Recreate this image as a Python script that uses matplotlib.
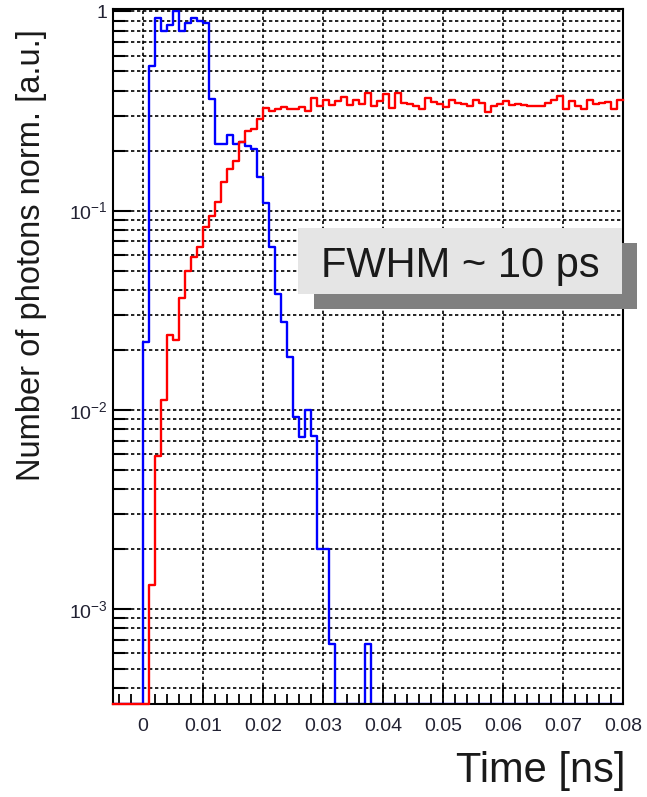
import numpy as np
import matplotlib
matplotlib.use("Agg")
from matplotlib import pyplot as plt
from matplotlib.patches import Rectangle
from matplotlib.ticker import FixedLocator, FixedFormatter, MultipleLocator, NullFormatter

plt.rcParams['font.family'] = ['Liberation Sans', 'DejaVu Sans']
plt.rcParams['mathtext.fontset'] = 'custom'
plt.rcParams['mathtext.rm'] = 'Liberation Sans'

# histogram binning: 85 bins of 1 ps from -0.005 to 0.080 ns
t_min = -0.005
t_max = 0.080
bin_width = 0.001

# blue: fast signal (normalised to max = 1)
blue = [0, 0, 0, 0, 0,
        0.0218, 0.53, 0.93, 0.80, 0.855, 1.0, 0.80, 0.87, 0.93, 0.90,
        0.87, 0.364, 0.217, 0.215, 0.241, 0.217, 0.22, 0.21, 0.203, 0.148,
        0.109, 0.066, 0.038, 0.0276, 0.0185, 0.0092, 0.0073, 0.0100, 0.0074, 0.0020,
        0.0020, 0.000665, 0, 0, 0, 0, 0, 0.000665, 0, 0,
        0, 0, 0, 0, 0, 0, 0, 0, 0, 0,
        0, 0, 0, 0, 0, 0, 0, 0, 0, 0,
        0, 0, 0, 0, 0, 0, 0, 0, 0, 0,
        0, 0, 0, 0, 0, 0, 0, 0, 0, 0]

# red: integrated signal
red = [0, 0, 0, 0, 0,
       0, 0.00132, 0.0059, 0.0112, 0.0238, 0.0225, 0.0364, 0.0499, 0.0585, 0.066,
       0.0824, 0.0944, 0.111, 0.139, 0.161, 0.177, 0.220, 0.252, 0.258, 0.287,
       0.328, 0.316, 0.324, 0.331, 0.325, 0.325, 0.331, 0.316, 0.368, 0.337,
       0.358, 0.338, 0.354, 0.373, 0.338, 0.361, 0.341, 0.388, 0.337, 0.354,
       0.383, 0.328, 0.388, 0.347, 0.344, 0.334, 0.322, 0.368, 0.350, 0.344,
       0.331, 0.358, 0.345, 0.341, 0.334, 0.361, 0.347, 0.312, 0.334, 0.344,
       0.354, 0.338, 0.344, 0.338, 0.334, 0.334, 0.334, 0.347, 0.358, 0.378,
       0.322, 0.354, 0.334, 0.325, 0.361, 0.341, 0.347, 0.350, 0.322, 0.361]

x_ticks = [0, 0.01, 0.02, 0.03, 0.04, 0.05, 0.06, 0.07, 0.08]
x_labels = ['0', '0.01', '0.02', '0.03', '0.04', '0.05', '0.06', '0.07', '0.08']
y_ticks = [1e-3, 1e-2, 1e-1, 1]
y_labels = [r'$\mathregular{10^{-3}}$', r'$\mathregular{10^{-2}}$',
            r'$\mathregular{10^{-1}}$', '1']

y_lo = 3.34e-4
y_hi = 1.028

edges = np.arange(len(blue) + 1) * bin_width + t_min
# ROOT draws empty bins along the bottom of the frame
blue_draw = np.clip(np.array(blue), y_lo, None)
red_draw = np.clip(np.array(red), y_lo, None)

W, H = 647, 797
fig = plt.figure(figsize=(W / 100, H / 100), dpi=100)
ax = fig.add_axes([113 / W, 1 - 704 / H, (623.3 - 113) / W, (704 - 9) / H])
ax.set_yscale('log')

ax.plot(edges, np.append(blue_draw, blue_draw[-1]), drawstyle='steps-post',
        color='#0000ff', lw=1.7, zorder=2)
ax.plot(edges, np.append(red_draw, red_draw[-1]), drawstyle='steps-post',
        color='#ff0000', lw=1.7, zorder=5, clip_on=False)

ax.set_xlim(t_min, t_max)
ax.set_ylim(y_lo, y_hi)

ax.xaxis.set_major_locator(FixedLocator(x_ticks))
ax.xaxis.set_major_formatter(FixedFormatter(x_labels))
ax.xaxis.set_minor_locator(MultipleLocator(0.002))
ax.yaxis.set_major_locator(FixedLocator(y_ticks))
ax.yaxis.set_major_formatter(FixedFormatter(y_labels))
minor_y = [m * 10.0 ** e for e in (-4, -3, -2, -1) for m in range(2, 10)]
ax.yaxis.set_minor_locator(FixedLocator(minor_y))
ax.yaxis.set_minor_formatter(NullFormatter())

ax.grid(True, which='major', axis='x', color='black', lw=1.2, ls=(0, (2.0, 1.6)))
ax.grid(True, which='both', axis='y', color='black', lw=1.2, ls=(0, (2.0, 1.6)))
ax.set_axisbelow(True)

ax.tick_params(axis='x', which='major', direction='in', length=14, width=1.3,
               labelsize=14, pad=10, labelcolor='#222233')
ax.tick_params(axis='x', which='minor', direction='in', length=7, width=1.3)
ax.tick_params(axis='y', which='major', direction='in', length=13, width=1.5,
               labelsize=14, pad=4, labelcolor='#222233')
ax.tick_params(axis='y', which='minor', direction='in', length=8.4, width=1.5)

for s in ax.spines.values():
    s.set_linewidth(1.5)

fig.text(32 / W, 1 - 29 / H, 'Number of photons norm. [a.u.]', rotation=90,
         ha='center', va='top', fontsize=23.5, color='#1a1a1a')
fig.text(625 / W, 1 - 771 / H, 'Time [ns]', ha='right', va='center',
         fontsize=30, color='#1a1a1a')

# FWHM label box with drop shadow
shadow = Rectangle((314 / W, 1 - 309 / H), (637.3 - 314) / W, (309 - 243.3) / H,
                   transform=fig.transFigure, facecolor='#808080', edgecolor='none', zorder=10)
box = Rectangle((298.3 / W, 1 - 294.3 / H), (622.3 - 298.3) / W, (294.3 - 228.3) / H,
                transform=fig.transFigure, facecolor='#e5e5e5', edgecolor='none', zorder=11)
fig.patches.extend([shadow, box])
fig.text(460.5 / W, 1 - 277 / H, 'FWHM ~ 10 ps', ha='center', va='baseline',
         fontsize=30, color='#1a1a1a', zorder=12)

fig.savefig('out.png', dpi=100)
